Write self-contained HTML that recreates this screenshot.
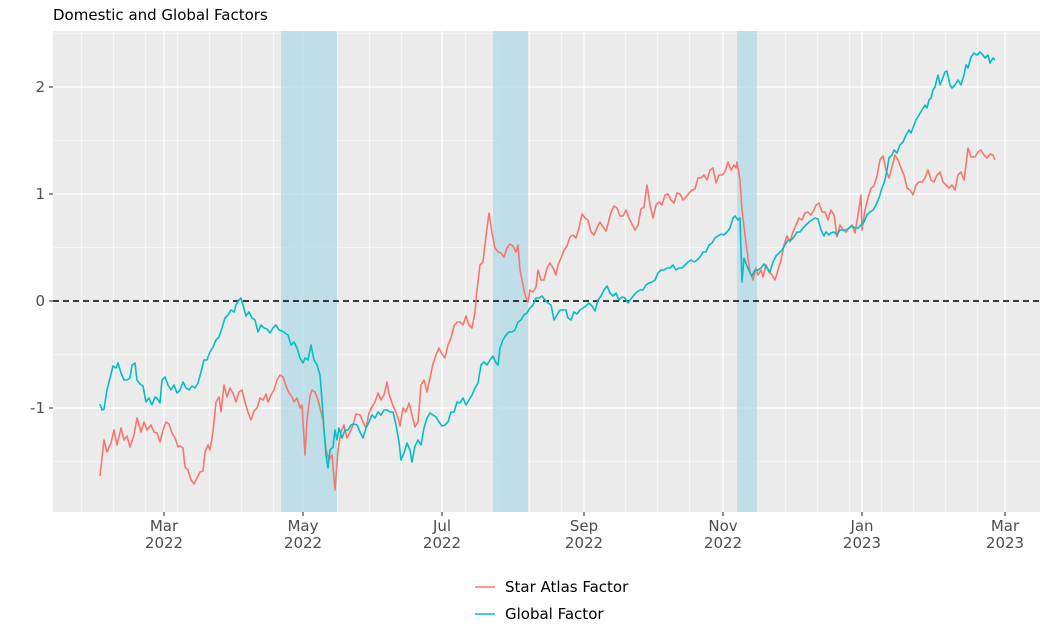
<!DOCTYPE html>
<html><head><meta charset="utf-8"><style>
body{margin:0;background:#fff;}
svg{display:block;font-family:"DejaVu Sans","Liberation Sans",sans-serif;}
</style></head><body>
<svg width="1048" height="629" viewBox="0 0 1048 629" xmlns="http://www.w3.org/2000/svg">
<text x="53" y="20" font-size="15" fill="#000">Domestic and Global Factors</text>
<rect x="53" y="31" width="987" height="481" fill="#ebebeb"/>
<g stroke="#fff" stroke-width="0.6">
<line x1="53" x2="1040" y1="140.5" y2="140.5"/><line x1="53" x2="1040" y1="247.5" y2="247.5"/>
<line x1="53" x2="1040" y1="354.5" y2="354.5"/><line x1="53" x2="1040" y1="461.5" y2="461.5"/>
<line x1="53" x2="1040" y1="33.5" y2="33.5"/>
</g>
<g stroke="#fff" stroke-width="0.6" id="minx"></g>
<g stroke="#fff" stroke-width="1.2">
<line x1="53" x2="1040" y1="87" y2="87"/><line x1="53" x2="1040" y1="194" y2="194"/>
<line x1="53" x2="1040" y1="301" y2="301"/><line x1="53" x2="1040" y1="408" y2="408"/>
<line y1="31" y2="512" x1="164" x2="164"/><line y1="31" y2="512" x1="303" x2="303"/>
<line y1="31" y2="512" x1="442" x2="442"/><line y1="31" y2="512" x1="584" x2="584"/>
<line y1="31" y2="512" x1="723" x2="723"/><line y1="31" y2="512" x1="862" x2="862"/>
<line y1="31" y2="512" x1="1005" x2="1005"/>
</g>
<g fill="#add8e6" fill-opacity="0.7">
<rect x="281" y="31" width="56" height="481"/>
<rect x="493" y="31" width="35" height="481"/>
<rect x="737" y="31" width="20" height="481"/>
</g>
<line x1="53" x2="1040" y1="301" y2="301" stroke="#000" stroke-width="1.4" stroke-dasharray="6,4"/>
<polyline fill="none" stroke="#f8766d" stroke-width="1.6" stroke-linejoin="round" points="100,476 104,440 107,452 111,443 114,430 117,445 121,428 124,440 127,436 130,447 134,435 137,418 141,432 144,422 147,430 151,425 154,432 157,433 160,442 163,430 166,422 169,424 172,433 175,438 178,447 180,446 183,448 185,467 188,470 191,480 194,484 197,478 200,472 203,471 205,452 208,445 210,450 213,432 216,402 219,397 221,412 224,385 227,397 230,388 233,393 236,402 239,392 242,390 245,402 248,412 251,420 254,411 257,408 260,398 263,400 266,394 268,402 271,395 274,390 277,380 280,375 283,377 286,386 289,393 292,397 294,402 297,398 300,408 302,405 305,455 307,420 310,396 312,390 315,392 318,400 320,408 323,420 326,450 329,460 332,455 335,490 338,450 341,432 344,425 347,438 350,432 353,425 356,414 360,415 363,422 366,428 369,413 372,407 375,402 378,393 381,400 384,395 387,382 389,394 392,403 395,410 398,418 400,426 403,408 406,412 409,403 412,415 415,427 418,422 421,385 424,380 427,392 430,378 433,364 436,355 439,348 442,354 445,358 448,345 451,338 454,326 457,322 460,322 463,325 466,316 469,325 472,328 475,312 477,290 480,265 483,262 486,236 489,213 492,233 495,248 498,252 501,253 504,257 507,248 510,244 513,246 516,252 518,245 520,270 522,280 525,295 528,302 530,290 533,292 536,287 538,270 541,280 544,280 547,268 550,263 553,268 556,275 558,265 561,258 564,250 567,246 570,237 573,235 576,238 579,228 582,214 585,218 588,220 591,232 594,235 597,228 600,222 603,227 606,231 608,224 611,212 614,206 617,208 620,216 623,216 626,210 629,218 632,224 635,230 638,225 641,209 644,207 647,185 650,205 653,218 656,205 659,202 662,205 665,195 668,194 671,200 674,203 677,193 680,194 683,200 686,197 689,193 692,190 695,189 698,178 701,178 704,175 707,180 710,170 713,168 716,183 719,175 722,175 725,172 728,162 731,170 734,165 736,168 737,162 740,180 742,210 745,235 748,258 750,272 753,280 756,268 758,275 761,270 763,277 766,265 769,272 772,275 775,280 778,270 781,260 784,245 787,236 790,242 793,232 796,225 799,218 802,220 805,213 808,212 811,215 814,210 816,205 819,203 822,212 825,212 828,220 831,210 834,215 837,237 840,225 843,230 846,232 849,228 852,225 855,233 858,215 861,195 862,230 865,210 868,198 871,188 874,186 877,176 880,160 883,156 886,170 889,178 892,167 895,155 898,160 901,168 904,175 907,188 910,190 913,195 916,185 919,182 922,182 925,178 928,170 931,180 934,182 937,175 940,172 943,182 946,185 949,188 952,185 955,190 958,175 961,172 964,180 966,165 968,148 971,157 975,157 978,152 981,150 984,155 987,158 990,154 993,155 995,160"/>
<polyline fill="none" stroke="#00bfc4" stroke-width="1.6" stroke-linejoin="round" points="100,404 102,410 104,409 107,390 110,378 113,366 116,368 118,363 121,373 124,380 127,380 130,378 132,365 135,363 137,380 140,384 143,386 146,402 149,398 152,405 155,397 157,398 160,403 162,380 165,377 168,385 171,390 174,385 177,393 180,390 183,382 186,388 189,390 192,386 195,388 198,383 201,372 204,360 207,360 210,352 213,347 216,340 219,337 222,328 225,318 228,315 231,310 234,312 236,305 239,300 241,298 243,305 246,316 249,312 252,318 255,320 258,332 261,325 264,328 267,329 270,333 273,328 276,325 279,330 282,331 285,333 288,335 291,345 294,342 297,348 300,358 303,363 305,358 308,360 311,345 314,360 317,365 320,375 322,400 324,430 326,455 328,468 330,450 333,447 335,430 337,440 339,428 342,438 345,430 348,430 351,425 354,424 357,425 360,432 363,438 366,428 369,422 372,415 375,418 378,412 381,415 384,410 387,410 390,412 393,412 396,425 399,442 401,460 404,453 407,443 410,450 412,462 415,446 418,440 421,445 424,428 427,418 430,413 433,415 436,417 439,422 442,426 445,425 448,422 451,412 454,412 457,402 460,403 463,398 466,405 469,400 472,395 475,388 478,383 481,365 484,362 487,365 490,360 493,356 496,363 498,365 500,348 503,340 506,335 509,332 512,332 515,330 518,322 521,320 524,315 527,313 530,308 533,305 536,298 539,298 542,296 545,300 548,303 551,305 554,320 557,315 560,310 563,310 566,310 568,318 571,320 574,312 577,314 580,310 583,308 586,306 589,303 592,306 595,311 598,300 601,296 604,290 607,286 610,293 613,296 616,293 619,300 622,297 625,298 628,303 631,299 634,295 637,292 640,290 643,290 646,285 649,283 652,282 655,280 658,273 661,270 664,270 667,268 670,268 673,265 676,270 679,268 682,268 685,265 688,262 691,260 694,262 697,260 700,257 703,252 706,252 709,245 712,243 715,238 718,236 721,234 724,235 727,232 730,228 733,218 735,216 738,220 740,218 741,250 742,282 744,258 747,266 750,273 752,276 755,270 758,270 761,268 764,264 767,268 770,272 773,262 776,256 779,253 782,250 785,245 788,240 791,240 794,237 797,232 800,232 803,228 806,225 809,222 812,220 815,218 818,219 821,230 824,236 826,232 829,235 831,233 834,232 837,235 840,230 843,230 846,230 849,228 852,226 855,228 858,228 861,225 864,222 867,215 870,212 873,210 876,205 879,198 882,188 885,180 887,170 889,158 892,155 894,150 897,153 900,145 903,142 906,135 909,130 911,133 913,128 916,120 919,115 922,110 925,105 927,108 929,100 931,98 933,90 935,87 938,75 940,85 942,80 945,72 947,71 950,85 952,88 955,85 958,80 961,85 964,75 966,65 968,68 971,57 974,53 977,55 980,52 983,55 985,58 988,55 990,63 993,58 995,60"/>
<g stroke="#333" stroke-width="1.1">
<line x1="49" x2="53" y1="87" y2="87"/><line x1="49" x2="53" y1="194" y2="194"/>
<line x1="49" x2="53" y1="301" y2="301"/><line x1="49" x2="53" y1="408" y2="408"/>
<line y1="512" y2="516" x1="164" x2="164"/><line y1="512" y2="516" x1="303" x2="303"/>
<line y1="512" y2="516" x1="442" x2="442"/><line y1="512" y2="516" x1="584" x2="584"/>
<line y1="512" y2="516" x1="723" x2="723"/><line y1="512" y2="516" x1="862" x2="862"/>
<line y1="512" y2="516" x1="1005" x2="1005"/>
</g>
<g font-size="15" fill="#4d4d4d" text-anchor="end">
<text x="45" y="92">2</text><text x="45" y="199">1</text><text x="45" y="306">0</text><text x="45" y="413">-1</text>
</g>
<g font-size="15" fill="#4d4d4d" text-anchor="middle">
<text x="164" y="531">Mar</text><text x="164" y="548">2022</text>
<text x="303" y="531">May</text><text x="303" y="548">2022</text>
<text x="442" y="531">Jul</text><text x="442" y="548">2022</text>
<text x="584" y="531">Sep</text><text x="584" y="548">2022</text>
<text x="723" y="531">Nov</text><text x="723" y="548">2022</text>
<text x="862" y="531">Jan</text><text x="862" y="548">2023</text>
<text x="1005" y="531">Mar</text><text x="1005" y="548">2023</text>
</g>
<line x1="475" x2="495" y1="587" y2="587" stroke="#f8766d" stroke-width="1.6"/>
<line x1="475" x2="495" y1="614" y2="614" stroke="#00bfc4" stroke-width="1.6"/>
<g font-size="15" fill="#000">
<text x="505" y="592">Star Atlas Factor</text>
<text x="505" y="619">Global Factor</text>
</g>
</svg>
<script>
var g=document.getElementById('minx');var majors=[164,303,442,584,723,862,1005];
for(var x=81.7;x<1040;x+=32){var near=majors.some(function(m){return Math.abs(m-x)<12});if(near)continue;
var l=document.createElementNS('http://www.w3.org/2000/svg','line');l.setAttribute('x1',x);l.setAttribute('x2',x);l.setAttribute('y1',31);l.setAttribute('y2',512);g.appendChild(l);}
</script>
</body></html>
